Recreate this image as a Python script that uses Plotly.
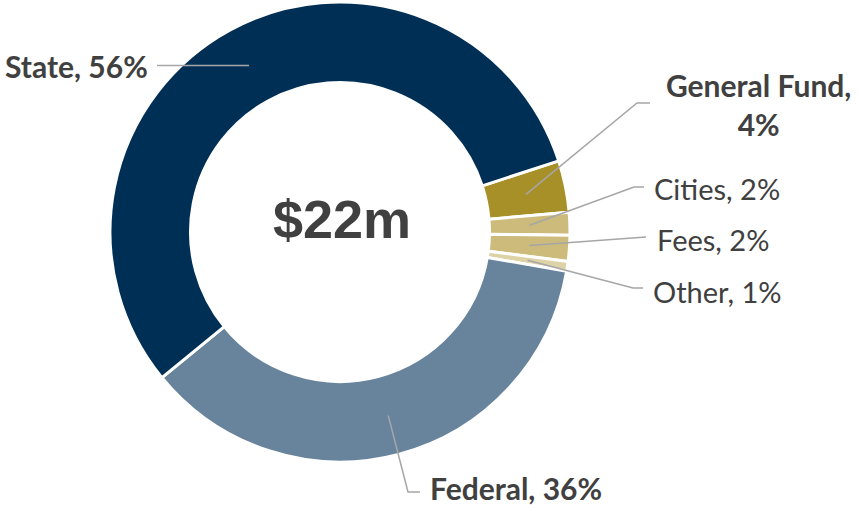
import math
import plotly.graph_objects as go

# ---- data ----
categories = ["General Fund", "Cities", "Fees", "Other", "Federal", "State"]
values = [0.8, 0.35, 0.4, 0.15, 8.0, 12.3]   # $ millions
colors = ["#A89028", "#CDBB7C", "#CDBB7C", "#DDD3A6", "#67849C", "#002F56"]
bold = [True, False, False, False, True, True]
total_label = "$22m"

W, H = 859, 505
CX, CY, R = 340, 232, 230
HOLE = 0.65
ROT = 72

fig = go.Figure(go.Pie(
    labels=categories, values=values, sort=False, direction="clockwise",
    rotation=ROT, hole=HOLE, textinfo="none", hoverinfo="label+percent",
    marker=dict(colors=colors, line=dict(color="white", width=3)),
    domain=dict(x=[(CX - R) / W, (CX + R) / W], y=[1 - (CY + R) / H, 1 - (CY - R) / H]),
    showlegend=False,
))

total = sum(values)
pct = [round(v / total * 100) for v in values]

# anchor points at mid-ring of each slice (computed from data)
anchors = []
acc = 0.0
rmid = R * (1 + HOLE) / 2
for v in values:
    mid = ROT + (acc + v / 2) / total * 360
    acc += v
    a = math.radians(mid)
    anchors.append((CX + rmid * math.sin(a), CY - rmid * math.cos(a)))

def px(x):
    return x / W

def py(y):
    return 1 - y / H

# label layout: (elbow point, end point, text x, text y, xanchor)
layout_pos = {
    "General Fund": ((637, 103), (650, 103), 758, 105, "center"),
    "Cities": ((634, 187), (644, 187), 652, 188, "left"),
    "Fees": ((646, 237), (646, 237), 655, 239, "left"),
    "Other": ((633, 288), (643, 288), 651, 291, "left"),
    "Federal": ((408, 492), (420, 492), 428, 488, "left"),
    "State": ((157, None), (157, None), 150, 66, "right"),
}

shapes = []
annotations = []
for i, cat in enumerate(categories):
    (ex, ey), (tx, ty), lx, ly, anchor = layout_pos[cat]
    ax_, ay_ = anchors[i]
    if ey is None:
        ey = ay_
        ty = ay_
    path = f"M {px(ax_)},{py(ay_)} L {px(ex)},{py(ey)} L {px(tx)},{py(ty)}"
    shapes.append(dict(type="path", path=path, xref="paper", yref="paper",
                       line=dict(color="#A6A6A6", width=1.5)))
    if cat == "General Fund":
        txt = f"{cat},<br>{pct[i]}%"
    else:
        txt = f"{cat}, {pct[i]}%"
    if bold[i]:
        txt = f"<b>{txt}</b>"
    annotations.append(dict(
        x=px(lx), y=py(ly), xref="paper", yref="paper", text=txt, showarrow=False,
        xanchor=anchor, yanchor="middle", align="center",
        font=dict(family="Lato", size=30 if bold[i] else 29, color="#404040"),
    ))

annotations.append(dict(
    x=px(342), y=py(219), xref="paper", yref="paper", text=f"<b>{total_label}</b>",
    showarrow=False, xanchor="center", yanchor="middle",
    font=dict(family="Liberation Sans", size=54, color="#404040"),
))

fig.update_layout(
    width=W, height=H, margin=dict(l=0, r=0, t=0, b=0),
    paper_bgcolor="white", plot_bgcolor="white",
    shapes=shapes, annotations=annotations,
)

fig.write_html("out.html", config={"displayModeBar": False},
               post_script="document.body.style.margin='0';document.body.style.overflow='hidden';")
